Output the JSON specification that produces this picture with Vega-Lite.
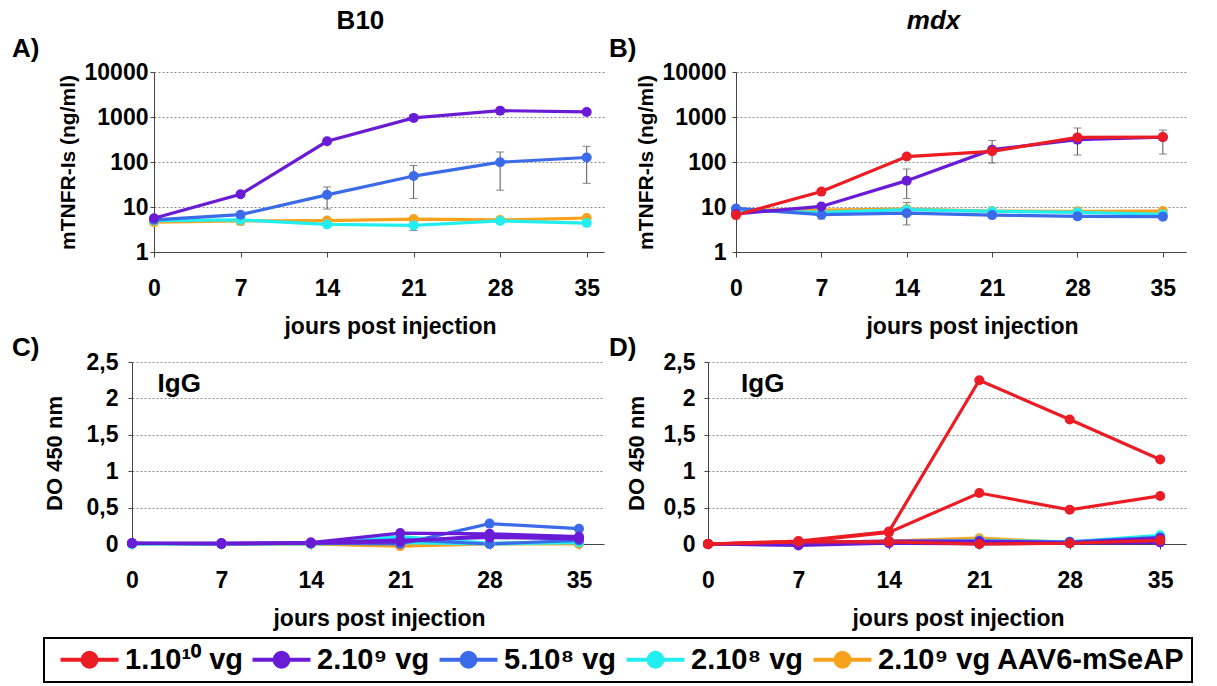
{
"$schema": "https://vega.github.io/schema/vega-lite/v6.json",
"padding": {"left": 11, "top": 7, "right": 0, "bottom": 0},
"background": "white",
"config": {
 "font": "Liberation Sans",
 "view": {"stroke": null},
 "axis": {"labelFont": "Liberation Sans", "labelFontSize": 23, "labelFontWeight": "bold", "labelColor": "#000", "titleColor": "#000", "titleFontWeight": "bold", "titleFont": "Liberation Sans", "domainColor": "#444", "tickColor": "#444", "domainWidth": 1, "tickWidth": 1, "labelFlush": false, "labelOverlap": false, "gridColor": "#8a8a8a", "gridDash": [2, 2], "gridWidth": 1},
 "axisX": {"grid": false, "tickSize": 5, "labelPadding": 20, "titleFontSize": 23, "titlePadding": 15},
 "axisY": {"grid": true, "tickSize": 4},
 "text": {"font": "Liberation Sans"}
},
"datasets": {
"notes": [
{"p":"A","t":"A)","d":-11.48,"v":32400},{"p":"A","t":"B10","d":16.7,"v":136000},
{"p":"B","t":"B)","d":-10.41,"v":32400},{"p":"B","t":"mdx","d":16.2,"v":136000},
{"p":"C","t":"C)","d":-9.4,"v":2.69},{"p":"C","t":"IgG","d":2.0,"v":2.2},
{"p":"D","t":"D)","d":-7.67,"v":2.69},{"p":"D","t":"IgG","d":2.56,"v":2.2}
],
"lines": [
{"p":"A","s":"2.10⁹ vg AAV6-mSeAP","id":"Ao","d":0,"v":4.6},{"p":"A","s":"2.10⁹ vg AAV6-mSeAP","id":"Ao","d":7,"v":4.9},{"p":"A","s":"2.10⁹ vg AAV6-mSeAP","id":"Ao","d":14,"v":5.0},{"p":"A","s":"2.10⁹ vg AAV6-mSeAP","id":"Ao","d":21,"v":5.4},{"p":"A","s":"2.10⁹ vg AAV6-mSeAP","id":"Ao","d":28,"v":5.15},{"p":"A","s":"2.10⁹ vg AAV6-mSeAP","id":"Ao","d":35,"v":5.7},
{"p":"A","s":"2.10⁸ vg","id":"Ac","d":0,"v":5.0},{"p":"A","s":"2.10⁸ vg","id":"Ac","d":7,"v":5.15},{"p":"A","s":"2.10⁸ vg","id":"Ac","d":14,"v":4.1},{"p":"A","s":"2.10⁸ vg","id":"Ac","d":21,"v":3.9,"lo":3.0,"hi":5.0},{"p":"A","s":"2.10⁸ vg","id":"Ac","d":28,"v":4.9},{"p":"A","s":"2.10⁸ vg","id":"Ac","d":35,"v":4.4},
{"p":"A","s":"5.10⁸ vg","id":"Ab","d":0,"v":5.2},{"p":"A","s":"5.10⁸ vg","id":"Ab","d":7,"v":6.75,"lo":4.0,"hi":7.6},{"p":"A","s":"5.10⁸ vg","id":"Ab","d":14,"v":18.6,"lo":9.0,"hi":27.9},{"p":"A","s":"5.10⁸ vg","id":"Ab","d":21,"v":48.7,"lo":15.5,"hi":83.7},{"p":"A","s":"5.10⁸ vg","id":"Ab","d":28,"v":99,"lo":23.6,"hi":167},{"p":"A","s":"5.10⁸ vg","id":"Ab","d":35,"v":126,"lo":33.6,"hi":223},
{"p":"A","s":"2.10⁹ vg","id":"Ap","d":0,"v":5.6},{"p":"A","s":"2.10⁹ vg","id":"Ap","d":7,"v":19.2},{"p":"A","s":"2.10⁹ vg","id":"Ap","d":14,"v":288},{"p":"A","s":"2.10⁹ vg","id":"Ap","d":21,"v":955,"lo":860,"hi":1060},{"p":"A","s":"2.10⁹ vg","id":"Ap","d":28,"v":1384,"lo":1150,"hi":1560},{"p":"A","s":"2.10⁹ vg","id":"Ap","d":35,"v":1294},
{"p":"B","s":"2.10⁹ vg AAV6-mSeAP","id":"Bo","d":0,"v":8.7},{"p":"B","s":"2.10⁹ vg AAV6-mSeAP","id":"Bo","d":7,"v":8.5},{"p":"B","s":"2.10⁹ vg AAV6-mSeAP","id":"Bo","d":14,"v":9.0},{"p":"B","s":"2.10⁹ vg AAV6-mSeAP","id":"Bo","d":21,"v":8.1},{"p":"B","s":"2.10⁹ vg AAV6-mSeAP","id":"Bo","d":28,"v":8.0},{"p":"B","s":"2.10⁹ vg AAV6-mSeAP","id":"Bo","d":35,"v":8.1},
{"p":"B","s":"2.10⁸ vg","id":"Bc","d":0,"v":8.3},{"p":"B","s":"2.10⁸ vg","id":"Bc","d":7,"v":7.6},{"p":"B","s":"2.10⁸ vg","id":"Bc","d":14,"v":8.7},{"p":"B","s":"2.10⁸ vg","id":"Bc","d":21,"v":8.0},{"p":"B","s":"2.10⁸ vg","id":"Bc","d":28,"v":7.6},{"p":"B","s":"2.10⁸ vg","id":"Bc","d":35,"v":6.9},
{"p":"B","s":"5.10⁸ vg","id":"Bb","d":0,"v":9.3},{"p":"B","s":"5.10⁸ vg","id":"Bb","d":7,"v":6.75,"lo":5.4,"hi":7.6},{"p":"B","s":"5.10⁸ vg","id":"Bb","d":14,"v":7.3,"lo":4.0,"hi":12.6},{"p":"B","s":"5.10⁸ vg","id":"Bb","d":21,"v":6.6},{"p":"B","s":"5.10⁸ vg","id":"Bb","d":28,"v":6.2,"lo":5.4,"hi":7.2},{"p":"B","s":"5.10⁸ vg","id":"Bb","d":35,"v":6.1},
{"p":"B","s":"2.10⁹ vg","id":"Bp","d":0,"v":7.0},{"p":"B","s":"2.10⁹ vg","id":"Bp","d":7,"v":10.3},{"p":"B","s":"2.10⁹ vg","id":"Bp","d":14,"v":38.5,"lo":15.4,"hi":70},{"p":"B","s":"2.10⁹ vg","id":"Bp","d":21,"v":188},{"p":"B","s":"2.10⁹ vg","id":"Bp","d":28,"v":313},{"p":"B","s":"2.10⁹ vg","id":"Bp","d":35,"v":355},
{"p":"B","s":"1.10¹⁰ vg","id":"Br","d":0,"v":6.6},{"p":"B","s":"1.10¹⁰ vg","id":"Br","d":7,"v":22},{"p":"B","s":"1.10¹⁰ vg","id":"Br","d":14,"v":132},{"p":"B","s":"1.10¹⁰ vg","id":"Br","d":21,"v":173,"lo":95,"hi":300},{"p":"B","s":"1.10¹⁰ vg","id":"Br","d":28,"v":352,"lo":143,"hi":570},{"p":"B","s":"1.10¹⁰ vg","id":"Br","d":35,"v":358,"lo":150,"hi":513},
{"p":"C","s":"2.10⁹ vg AAV6-mSeAP","id":"Co1","d":0,"v":0},{"p":"C","s":"2.10⁹ vg AAV6-mSeAP","id":"Co1","d":7,"v":0},{"p":"C","s":"2.10⁹ vg AAV6-mSeAP","id":"Co1","d":14,"v":0},{"p":"C","s":"2.10⁹ vg AAV6-mSeAP","id":"Co1","d":21,"v":-0.03},{"p":"C","s":"2.10⁹ vg AAV6-mSeAP","id":"Co1","d":28,"v":0},{"p":"C","s":"2.10⁹ vg AAV6-mSeAP","id":"Co1","d":35,"v":0},
{"p":"C","s":"2.10⁹ vg AAV6-mSeAP","id":"Co2","d":0,"v":0},{"p":"C","s":"2.10⁹ vg AAV6-mSeAP","id":"Co2","d":7,"v":0},{"p":"C","s":"2.10⁹ vg AAV6-mSeAP","id":"Co2","d":14,"v":0},{"p":"C","s":"2.10⁹ vg AAV6-mSeAP","id":"Co2","d":21,"v":-0.02},{"p":"C","s":"2.10⁹ vg AAV6-mSeAP","id":"Co2","d":28,"v":0.01},{"p":"C","s":"2.10⁹ vg AAV6-mSeAP","id":"Co2","d":35,"v":0.01},
{"p":"C","s":"2.10⁸ vg","id":"Cc1","d":0,"v":0},{"p":"C","s":"2.10⁸ vg","id":"Cc1","d":7,"v":0},{"p":"C","s":"2.10⁸ vg","id":"Cc1","d":14,"v":0.01},{"p":"C","s":"2.10⁸ vg","id":"Cc1","d":21,"v":0.1},{"p":"C","s":"2.10⁸ vg","id":"Cc1","d":28,"v":0.01},{"p":"C","s":"2.10⁸ vg","id":"Cc1","d":35,"v":0.03},
{"p":"C","s":"2.10⁸ vg","id":"Cc2","d":0,"v":0},{"p":"C","s":"2.10⁸ vg","id":"Cc2","d":7,"v":0},{"p":"C","s":"2.10⁸ vg","id":"Cc2","d":14,"v":0},{"p":"C","s":"2.10⁸ vg","id":"Cc2","d":21,"v":0.02},{"p":"C","s":"2.10⁸ vg","id":"Cc2","d":28,"v":0},{"p":"C","s":"2.10⁸ vg","id":"Cc2","d":35,"v":0.02},
{"p":"C","s":"5.10⁸ vg","id":"Cb1","d":0,"v":0.01},{"p":"C","s":"5.10⁸ vg","id":"Cb1","d":7,"v":0.01},{"p":"C","s":"5.10⁸ vg","id":"Cb1","d":14,"v":0.01},{"p":"C","s":"5.10⁸ vg","id":"Cb1","d":21,"v":0},{"p":"C","s":"5.10⁸ vg","id":"Cb1","d":28,"v":0.28},{"p":"C","s":"5.10⁸ vg","id":"Cb1","d":35,"v":0.21},
{"p":"C","s":"5.10⁸ vg","id":"Cb2","d":0,"v":0.01},{"p":"C","s":"5.10⁸ vg","id":"Cb2","d":7,"v":0},{"p":"C","s":"5.10⁸ vg","id":"Cb2","d":14,"v":0.01},{"p":"C","s":"5.10⁸ vg","id":"Cb2","d":21,"v":0.06},{"p":"C","s":"5.10⁸ vg","id":"Cb2","d":28,"v":0},{"p":"C","s":"5.10⁸ vg","id":"Cb2","d":35,"v":0.05},
{"p":"C","s":"2.10⁹ vg","id":"Cp1","d":0,"v":0.01},{"p":"C","s":"2.10⁹ vg","id":"Cp1","d":7,"v":0.01},{"p":"C","s":"2.10⁹ vg","id":"Cp1","d":14,"v":0.02},{"p":"C","s":"2.10⁹ vg","id":"Cp1","d":21,"v":0.15},{"p":"C","s":"2.10⁹ vg","id":"Cp1","d":28,"v":0.14},{"p":"C","s":"2.10⁹ vg","id":"Cp1","d":35,"v":0.1},
{"p":"C","s":"2.10⁹ vg","id":"Cp2","d":0,"v":0.01},{"p":"C","s":"2.10⁹ vg","id":"Cp2","d":7,"v":0.01},{"p":"C","s":"2.10⁹ vg","id":"Cp2","d":14,"v":0.02},{"p":"C","s":"2.10⁹ vg","id":"Cp2","d":21,"v":0.05},{"p":"C","s":"2.10⁹ vg","id":"Cp2","d":28,"v":0.09},{"p":"C","s":"2.10⁹ vg","id":"Cp2","d":35,"v":0.07},
{"p":"C","s":"2.10⁹ vg","id":"Cp3","d":0,"v":0.01},{"p":"C","s":"2.10⁹ vg","id":"Cp3","d":7,"v":0},{"p":"C","s":"2.10⁹ vg","id":"Cp3","d":14,"v":0.01},{"p":"C","s":"2.10⁹ vg","id":"Cp3","d":21,"v":0.03},{"p":"C","s":"2.10⁹ vg","id":"Cp3","d":28,"v":0.12},{"p":"C","s":"2.10⁹ vg","id":"Cp3","d":35,"v":0.08},
{"p":"D","s":"2.10⁹ vg AAV6-mSeAP","id":"Do1","d":0,"v":0},{"p":"D","s":"2.10⁹ vg AAV6-mSeAP","id":"Do1","d":7,"v":0.02},{"p":"D","s":"2.10⁹ vg AAV6-mSeAP","id":"Do1","d":14,"v":0.04},{"p":"D","s":"2.10⁹ vg AAV6-mSeAP","id":"Do1","d":21,"v":0.08},{"p":"D","s":"2.10⁹ vg AAV6-mSeAP","id":"Do1","d":28,"v":0.02},{"p":"D","s":"2.10⁹ vg AAV6-mSeAP","id":"Do1","d":35,"v":0.05},
{"p":"D","s":"2.10⁸ vg","id":"Dc1","d":0,"v":0},{"p":"D","s":"2.10⁸ vg","id":"Dc1","d":7,"v":0.01},{"p":"D","s":"2.10⁸ vg","id":"Dc1","d":14,"v":0.03},{"p":"D","s":"2.10⁸ vg","id":"Dc1","d":21,"v":0.05},{"p":"D","s":"2.10⁸ vg","id":"Dc1","d":28,"v":0.03},{"p":"D","s":"2.10⁸ vg","id":"Dc1","d":35,"v":0.12},
{"p":"D","s":"5.10⁸ vg","id":"Db1","d":0,"v":0},{"p":"D","s":"5.10⁸ vg","id":"Db1","d":7,"v":0},{"p":"D","s":"5.10⁸ vg","id":"Db1","d":14,"v":0.03},{"p":"D","s":"5.10⁸ vg","id":"Db1","d":21,"v":0.02},{"p":"D","s":"5.10⁸ vg","id":"Db1","d":28,"v":0.03},{"p":"D","s":"5.10⁸ vg","id":"Db1","d":35,"v":0.09},
{"p":"D","s":"2.10⁹ vg","id":"Dp1","d":0,"v":0},{"p":"D","s":"2.10⁹ vg","id":"Dp1","d":7,"v":0.02},{"p":"D","s":"2.10⁹ vg","id":"Dp1","d":14,"v":0.04},{"p":"D","s":"2.10⁹ vg","id":"Dp1","d":21,"v":0.04},{"p":"D","s":"2.10⁹ vg","id":"Dp1","d":28,"v":0.02},{"p":"D","s":"2.10⁹ vg","id":"Dp1","d":35,"v":0.08},
{"p":"D","s":"2.10⁹ vg","id":"Dp2","d":0,"v":0},{"p":"D","s":"2.10⁹ vg","id":"Dp2","d":7,"v":-0.02},{"p":"D","s":"2.10⁹ vg","id":"Dp2","d":14,"v":0.01},{"p":"D","s":"2.10⁹ vg","id":"Dp2","d":21,"v":0},{"p":"D","s":"2.10⁹ vg","id":"Dp2","d":28,"v":0.01},{"p":"D","s":"2.10⁹ vg","id":"Dp2","d":35,"v":0.02},
{"p":"D","s":"1.10¹⁰ vg","id":"Dr3","d":0,"v":0},{"p":"D","s":"1.10¹⁰ vg","id":"Dr3","d":7,"v":0.03},{"p":"D","s":"1.10¹⁰ vg","id":"Dr3","d":14,"v":0.03},{"p":"D","s":"1.10¹⁰ vg","id":"Dr3","d":21,"v":0},{"p":"D","s":"1.10¹⁰ vg","id":"Dr3","d":28,"v":0.01},{"p":"D","s":"1.10¹⁰ vg","id":"Dr3","d":35,"v":0.05},
{"p":"D","s":"1.10¹⁰ vg","id":"Dr2","d":0,"v":0},{"p":"D","s":"1.10¹⁰ vg","id":"Dr2","d":7,"v":0.03},{"p":"D","s":"1.10¹⁰ vg","id":"Dr2","d":14,"v":0.16},{"p":"D","s":"1.10¹⁰ vg","id":"Dr2","d":21,"v":0.7},{"p":"D","s":"1.10¹⁰ vg","id":"Dr2","d":28,"v":0.47},{"p":"D","s":"1.10¹⁰ vg","id":"Dr2","d":35,"v":0.66},
{"p":"D","s":"1.10¹⁰ vg","id":"Dr1","d":0,"v":0},{"p":"D","s":"1.10¹⁰ vg","id":"Dr1","d":7,"v":0.04},{"p":"D","s":"1.10¹⁰ vg","id":"Dr1","d":14,"v":0.17},{"p":"D","s":"1.10¹⁰ vg","id":"Dr1","d":21,"v":2.25},{"p":"D","s":"1.10¹⁰ vg","id":"Dr1","d":28,"v":1.71},{"p":"D","s":"1.10¹⁰ vg","id":"Dr1","d":35,"v":1.16}
]},
"spacing": 290,
"bounds": "flush",
"resolve": {"scale": {"color": "shared"}},
"vconcat": [
{"hconcat": [
{"width": 22, "height": 10, "data": {"values": []}, "mark": "point"},
{
 "width": 450, "height": 180,
 "data": {"name": "lines"},
 "encoding": {
  "x": {"field": "d", "type": "quantitative", "title": "jours post injection", "scale": {"domain": [0, 36.4], "nice": false, "zero": false}, "axis": {"values": [0,7,14,21,28,35], "format": "d", "titleX": 236}},
  "y": {"field": "v", "type": "quantitative", "title": "mTNFR-Is (ng/ml)", "scale": {"type": "log", "domain": [1, 10000], "nice": false}, "axis": {"titleFontSize": 21, "values": [1,10,100,1000,10000], "format": "d", "labelPadding": 2, "titlePadding": 6}}
 },
 "layer": [
  {"transform": [{"filter": "datum.p === 'A' && isValid(datum.lo)"}], "mark": {"type": "rule", "color": "#555", "strokeWidth": 1}, "encoding": {"y": {"field": "lo", "type": "quantitative", "title": "mTNFR-Is (ng/ml)"}, "y2": {"field": "hi"}}},
  {"transform": [{"filter": "datum.p === 'A' && isValid(datum.lo)"}], "mark": {"type": "tick", "orient": "horizontal", "color": "#555", "size": 8, "thickness": 1}, "encoding": {"y": {"field": "lo", "type": "quantitative", "title": "mTNFR-Is (ng/ml)"}}},
  {"transform": [{"filter": "datum.p === 'A' && isValid(datum.hi)"}], "mark": {"type": "tick", "orient": "horizontal", "color": "#555", "size": 8, "thickness": 1}, "encoding": {"y": {"field": "hi", "type": "quantitative", "title": "mTNFR-Is (ng/ml)"}}},
  {"transform": [{"filter": "datum.p === 'A'"}], "mark": {"type": "line", "strokeWidth": 3.2}, "encoding": {"detail": {"field": "id"}, "color": {"field": "s", "type": "nominal", "scale": {"domain": ["1.10¹⁰ vg","2.10⁹ vg","5.10⁸ vg","2.10⁸ vg","2.10⁹ vg AAV6-mSeAP"], "range": ["#ec1c24","#6a1bd6","#3b6be9","#22eef0","#f7a21c"]}, "legend": {"title": null, "orient": "none", "legendX": -88, "legendY": 566, "direction": "horizontal", "columns": 5, "symbolType": "M-0.71,0L7.57,0M2.43,0A1,1,0,1,1,4.43,0A1,1,0,1,1,2.43,0Z", "symbolSize": 196, "symbolStrokeWidth": 4, "labelFontSize": 29, "labelFontWeight": "bold", "labelColor": "#000", "labelLimit": 500, "labelOffset": 45, "columnPadding": 0, "padding": 7, "strokeColor": "#000", "encode": {"symbols": {"update": {"fill": {"scale": "color", "field": "value"}, "stroke": {"scale": "color", "field": "value"}, "strokeWidth": {"value": 4}, "opacity": {"value": 1}}}, "legend": {"update": {"strokeWidth": {"value": 2}}}}}}}},
  {"transform": [{"filter": "datum.p === 'A'"}], "mark": {"type": "circle", "size": 100, "opacity": 1}, "encoding": {"color": {"field": "s", "type": "nominal"}}},
  {"data": {"name": "notes"}, "transform": [{"filter": "datum.t === 'A)'"}], "mark": {"type": "text", "fontSize": 26, "fontWeight": "bold", "align": "left", "baseline": "middle", "color": "#000"}, "encoding": {"text": {"field": "t"}}},
  {"data": {"name": "notes"}, "transform": [{"filter": "datum.t === 'B10'"}], "mark": {"type": "text", "fontSize": 26, "fontWeight": "bold", "align": "center", "baseline": "middle", "color": "#000"}, "encoding": {"text": {"field": "t"}}}
 ]
},
{"width": 132, "height": 10, "data": {"values": []}, "mark": "point"},
{
 "width": 450, "height": 180,
 "data": {"name": "lines"},
 "encoding": {
  "x": {"field": "d", "type": "quantitative", "title": "jours post injection", "scale": {"domain": [0, 36.9], "nice": false, "zero": false}, "axis": {"values": [0,7,14,21,28,35], "format": "d", "titleX": 236}},
  "y": {"field": "v", "type": "quantitative", "title": "mTNFR-Is (ng/ml)", "scale": {"type": "log", "domain": [1, 10000], "nice": false}, "axis": {"titleFontSize": 21, "values": [1,10,100,1000,10000], "format": "d", "labelPadding": 6, "titlePadding": 6}}
 },
 "layer": [
  {"transform": [{"filter": "datum.p === 'B' && isValid(datum.lo)"}], "mark": {"type": "rule", "color": "#555", "strokeWidth": 1}, "encoding": {"y": {"field": "lo", "type": "quantitative", "title": "mTNFR-Is (ng/ml)"}, "y2": {"field": "hi"}}},
  {"transform": [{"filter": "datum.p === 'B' && isValid(datum.lo)"}], "mark": {"type": "tick", "orient": "horizontal", "color": "#555", "size": 8, "thickness": 1}, "encoding": {"y": {"field": "lo", "type": "quantitative", "title": "mTNFR-Is (ng/ml)"}}},
  {"transform": [{"filter": "datum.p === 'B' && isValid(datum.hi)"}], "mark": {"type": "tick", "orient": "horizontal", "color": "#555", "size": 8, "thickness": 1}, "encoding": {"y": {"field": "hi", "type": "quantitative", "title": "mTNFR-Is (ng/ml)"}}},
  {"transform": [{"filter": "datum.p === 'B'"}], "mark": {"type": "line", "strokeWidth": 3.2}, "encoding": {"detail": {"field": "id"}, "color": {"field": "s", "type": "nominal"}}},
  {"transform": [{"filter": "datum.p === 'B'"}], "mark": {"type": "circle", "size": 100, "opacity": 1}, "encoding": {"color": {"field": "s", "type": "nominal"}}},
  {"data": {"name": "notes"}, "transform": [{"filter": "datum.t === 'B)'"}], "mark": {"type": "text", "fontSize": 26, "fontWeight": "bold", "align": "left", "baseline": "middle", "color": "#000"}, "encoding": {"text": {"field": "t"}}},
  {"data": {"name": "notes"}, "transform": [{"filter": "datum.t === 'mdx'"}], "mark": {"type": "text", "fontSize": 26, "fontWeight": "bold", "fontStyle": "italic", "align": "center", "baseline": "middle", "color": "#000"}, "encoding": {"text": {"field": "t"}}}
 ]
}
], "spacing": 0, "bounds": "flush"},
{"hconcat": [
{
 "width": 472, "height": 182,
 "data": {"name": "lines"},
 "encoding": {
  "x": {"field": "d", "type": "quantitative", "title": "jours post injection", "scale": {"domain": [0, 36.96], "nice": false, "zero": false}, "axis": {"values": [0,7,14,21,28,35], "format": "d", "titleX": 247}},
  "y": {"field": "v", "type": "quantitative", "title": "DO 450 nm", "scale": {"domain": [0, 2.5], "nice": false, "zero": false}, "axis": {"titleFontSize": 22, "values": [0,0.5,1,1.5,2,2.5], "labelExpr": "replace(format(datum.value, '~g'), '.', ',')", "labelPadding": 10, "titlePadding": 20}}
 },
 "layer": [
  {"transform": [{"filter": "datum.p === 'C'"}], "mark": {"type": "line", "strokeWidth": 3.2}, "encoding": {"detail": {"field": "id"}, "color": {"field": "s", "type": "nominal"}}},
  {"transform": [{"filter": "datum.p === 'C'"}], "mark": {"type": "circle", "size": 100, "opacity": 1}, "encoding": {"color": {"field": "s", "type": "nominal"}}},
  {"data": {"name": "notes"}, "transform": [{"filter": "datum.p === 'C'"}], "mark": {"type": "text", "fontSize": 26, "fontWeight": "bold", "align": "left", "baseline": "middle", "color": "#000"}, "encoding": {"text": {"field": "t"}}}
 ]
},
{"width": 104, "height": 10, "data": {"values": []}, "mark": "point"},
{
 "width": 478, "height": 182,
 "data": {"name": "lines"},
 "encoding": {
  "x": {"field": "d", "type": "quantitative", "title": "jours post injection", "scale": {"domain": [0, 37.0], "nice": false, "zero": false}, "axis": {"values": [0,7,14,21,28,35], "format": "d", "titleX": 250}},
  "y": {"field": "v", "type": "quantitative", "title": "DO 450 nm", "scale": {"domain": [0, 2.5], "nice": false, "zero": false}, "axis": {"titleFontSize": 22, "values": [0,0.5,1,1.5,2,2.5], "labelExpr": "replace(format(datum.value, '~g'), '.', ',')", "labelPadding": 9, "titlePadding": 15}}
 },
 "layer": [
  {"transform": [{"filter": "datum.p === 'D'"}], "mark": {"type": "line", "strokeWidth": 3.2}, "encoding": {"detail": {"field": "id"}, "color": {"field": "s", "type": "nominal"}}},
  {"transform": [{"filter": "datum.p === 'D'"}], "mark": {"type": "circle", "size": 100, "opacity": 1}, "encoding": {"color": {"field": "s", "type": "nominal"}}},
  {"data": {"name": "notes"}, "transform": [{"filter": "datum.p === 'D'"}], "mark": {"type": "text", "fontSize": 26, "fontWeight": "bold", "align": "left", "baseline": "middle", "color": "#000"}, "encoding": {"text": {"field": "t"}}}
 ]
}
], "spacing": 0, "bounds": "flush"}
]
}
